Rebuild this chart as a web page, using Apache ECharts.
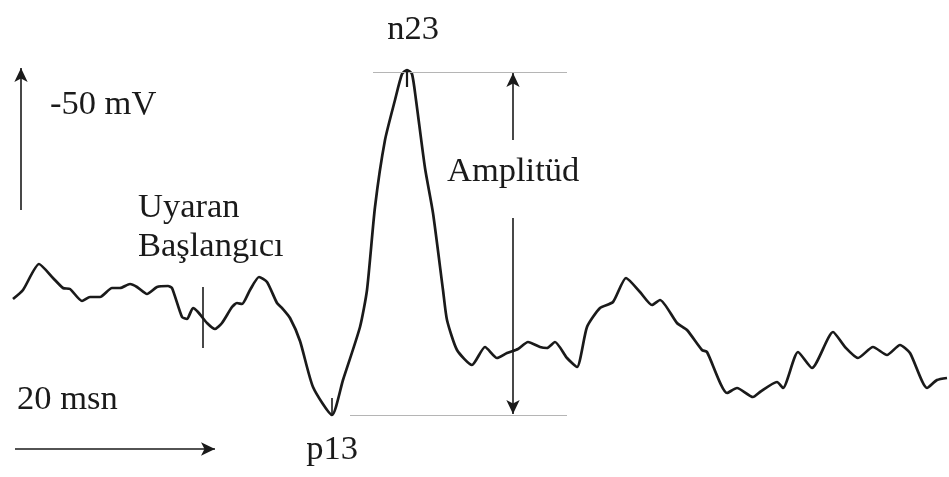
<!DOCTYPE html>
<html>
<head>
<meta charset="utf-8">
<script src="https://cdn.jsdelivr.net/npm/echarts@6/dist/echarts.min.js"></script>
<style>
html,body{margin:0;padding:0;background:#fff;}
#c{width:949px;height:477px;}
</style>
</head>
<body>
<div id="c"></div>
<script>
// time in ms (stimulus onset = 0), amplitude in arbitrary units (up = negative polarity)
const timeMs = [-19.0,-18.0,-16.4,-15.0,-14.0,-13.3,-12.1,-11.3,-10.3,-9.1,-8.3,-7.3,-6.6,-5.6,-4.6,-3.5,-3.1,-2.1,-1.6,-1.0,-0.5,0.4,1.2,1.9,2.9,3.4,3.9,4.7,5.6,6.4,7.4,7.9,8.7,9.7,11.0,12.9,14.0,15.7,16.4,17.2,18.2,19.2,19.9,20.4,20.9,21.3,22.2,23.0,24.0,24.4,25.4,26.9,28.2,29.4,30.4,31.5,32.5,33.7,34.4,35.2,36.4,37.4,38.4,39.7,41.0,42.3,43.7,44.9,45.7,47.4,48.4,49.9,50.4,52.4,53.4,55.0,55.7,57.4,58.0,59.5,60.9,63.0,64.2,65.5,67.0,68.4,69.7,70.7,72.4,73.4,74.4];
const amplitude = [58.0,62.5,75.5,68.5,63.5,63.0,57.0,59.0,59.0,63.5,63.5,65.5,64.0,60.5,64.0,64.5,63.5,49.0,48.0,53.5,51.5,46.0,43.0,46.0,54.0,56.0,55.5,62.5,69.0,66.5,56.0,53.5,48.5,37.0,14.0,0.0,17.5,44.0,62.5,104.0,137.5,157.5,170.5,172.5,170.5,157.5,123.5,101.0,62.5,47.5,32.5,25.0,34.0,28.5,31.0,33.0,36.5,34.0,33.5,36.5,28.5,24.0,44.0,53.5,56.5,68.5,61.5,55.0,57.5,46.0,42.5,32.5,31.5,11.0,13.5,9.0,11.5,16.5,13.5,31.5,23.5,41.5,34.0,28.5,34.0,30.0,35.0,31.0,13.5,17.5,18.5];

// annotation labels
const labelTexts = ['n23', 'p13', '-50 mV', '20 msn', 'Uyaran', 'Başlangıcı', 'Amplitüd'];
const n23 = {t: 20.4, a: 172.5};
const p13 = {t: 12.9, a: 0.0};

const chart = echarts.init(document.getElementById('c'), null, {renderer: 'canvas'});
const FONT = '"Liberation Serif", "Times New Roman", serif';
const INK = '#1a1a1a';

function seg(x1, y1, x2, y2, startSym, endSym, style) {
  return [
    {coord: [x1, y1], symbol: startSym, lineStyle: style},
    {coord: [x2, y2], symbol: endSym}
  ];
}
const black = {color: INK, width: 1.6, type: 'solid'};
const grey = {color: '#b5b5b5', width: 1, type: 'solid'};

function txt(label, x, y, pos) {
  return {
    coord: [x, y],
    value: label,
    label: {position: pos, distance: 0}
  };
}

chart.setOption({
  animation: false,
  backgroundColor: '#ffffff',
  grid: {left: 0, right: 0, top: 0, bottom: 0, containLabel: false},
  xAxis: {type: 'value', min: -20.3, max: 74.6, show: false},
  yAxis: {type: 'value', min: -31, max: 207.5, show: false},
  series: [{
    type: 'line',
    data: timeMs.map((t, i) => [t, amplitude[i]]),
    showSymbol: false,
    smooth: 0.2,
    lineStyle: {color: INK, width: 2.7},
    silent: true,
    markLine: {
      silent: true,
      symbolSize: [10, 14],
      label: {show: false},
      emphasis: {disabled: true},
      lineStyle: black,
      data: [
        seg(17.0, 171.5, 36.4, 171.5, 'none', 'none', grey),
        seg(14.7, p13.a, 36.4, p13.a, 'none', 'none', grey),
        seg(31.0, 137.5, 31.0, 171.0, 'none', 'arrow', black),
        seg(31.0, 98.5, 31.0, 0.5, 'none', 'arrow', black),
        seg(0.0, 64.0, 0.0, 33.5, 'none', 'none', black),
        seg(-18.2, 102.5, -18.2, 173.5, 'none', 'arrow', black),
        seg(-18.8, -17.0, 1.2, -17.0, 'none', 'arrow', black),
        seg(n23.t, 164.0, n23.t, 172.0, 'none', 'none', {color: INK, width: 2.2}),
        seg(p13.t, 8.5, p13.t, 0.5, 'none', 'none', {color: INK, width: 1.6})
      ]
    },
    markPoint: {
      silent: true,
      symbol: 'circle',
      symbolSize: 0,
      label: {
        show: true,
        color: INK,
        fontFamily: FONT,
        fontSize: 34.5,
        formatter: p => p.value
      },
      data: [
        txt(labelTexts[0], n23.t + 0.6, 192.5, 'inside'),
        txt(labelTexts[1], p13.t, -17.5, 'inside'),
        txt(labelTexts[2], -15.3, 155.0, 'right'),
        txt(labelTexts[3], -18.6, 7.5, 'right'),
        txt(labelTexts[4], -6.5, 103.5, 'right'),
        txt(labelTexts[5], -6.5, 84.0, 'right'),
        txt(labelTexts[6], 24.4, 121.5, 'right')
      ]
    }
  }]
});
</script>
</body>
</html>
